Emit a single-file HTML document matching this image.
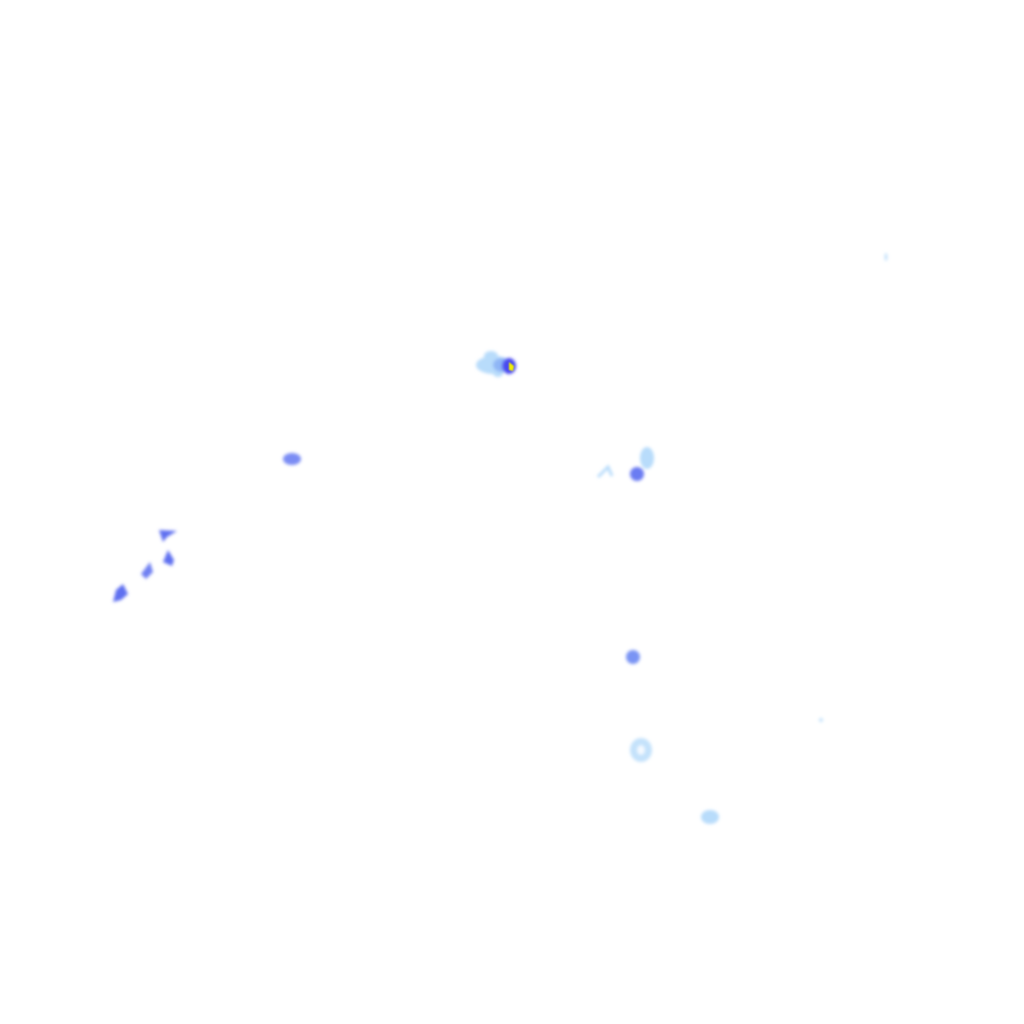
<!DOCTYPE html>
<html><head><meta charset="utf-8"><style>html,body{margin:0;padding:0;background:#fff;}svg{display:block}</style></head>
<body>
<svg width="1024" height="1024" viewBox="0 0 1024 1024" xmlns="http://www.w3.org/2000/svg">
<defs>
<filter id="b" x="-50%" y="-50%" width="200%" height="200%"><feGaussianBlur stdDeviation="1.6"/></filter>
<filter id="b2" x="-50%" y="-50%" width="200%" height="200%"><feGaussianBlur stdDeviation="0.8"/></filter>
</defs>
<rect width="1024" height="1024" fill="#fff"/>
<g filter="url(#b)">
<ellipse cx="494" cy="365" rx="18" ry="9" fill="#b8dcfb"/>
<ellipse cx="491" cy="356" rx="7" ry="5" fill="#b8dcfb"/>
<ellipse cx="498" cy="373" rx="5" ry="4" fill="#b8dcfb"/>
<ellipse cx="502" cy="365" rx="9" ry="7" fill="#8fb6f6"/>
<ellipse cx="509" cy="366" rx="7" ry="8" fill="#4a4af0"/>
<ellipse cx="292" cy="459" rx="9" ry="6" fill="#7a8cf4"/>
<polygon points="159,530 177,531 167,537 163,542" fill="#5f6ff0"/>
<polygon points="163,562 168,550 174,560 172,566" fill="#5f6ff0"/>
<polygon points="141,574 150,562 153,572 146,579" fill="#6f80f2"/>
<polygon points="113,602 116,590 123,584 128,594 121,600" fill="#5f6ff0"/>
<ellipse cx="647" cy="458" rx="7" ry="11" fill="#b8dcfb"/>
<ellipse cx="637" cy="474" rx="7" ry="7" fill="#6a7cf2"/>
<path d="M598 477 L608 467 L612 476" stroke="#b8dcfb" stroke-width="3" fill="none"/>
<ellipse cx="633" cy="657" rx="7" ry="7" fill="#7a94f4"/>
<ellipse cx="641" cy="750" rx="11" ry="12" fill="#c4e2fb"/>
<ellipse cx="710" cy="817" rx="9" ry="7" fill="#b8dcfb"/>
<ellipse cx="886" cy="257" rx="1.5" ry="4" fill="#c4e2fb"/>
<ellipse cx="821" cy="720" rx="2" ry="2" fill="#c4e2fb"/>
</g>
<ellipse cx="641" cy="750" rx="4" ry="5" fill="#f4f9ff" filter="url(#b)"/>
<polygon points="509,362 514,366 513,371 509,370" fill="#f0f000" filter="url(#b2)"/>
</svg>
</body></html>
